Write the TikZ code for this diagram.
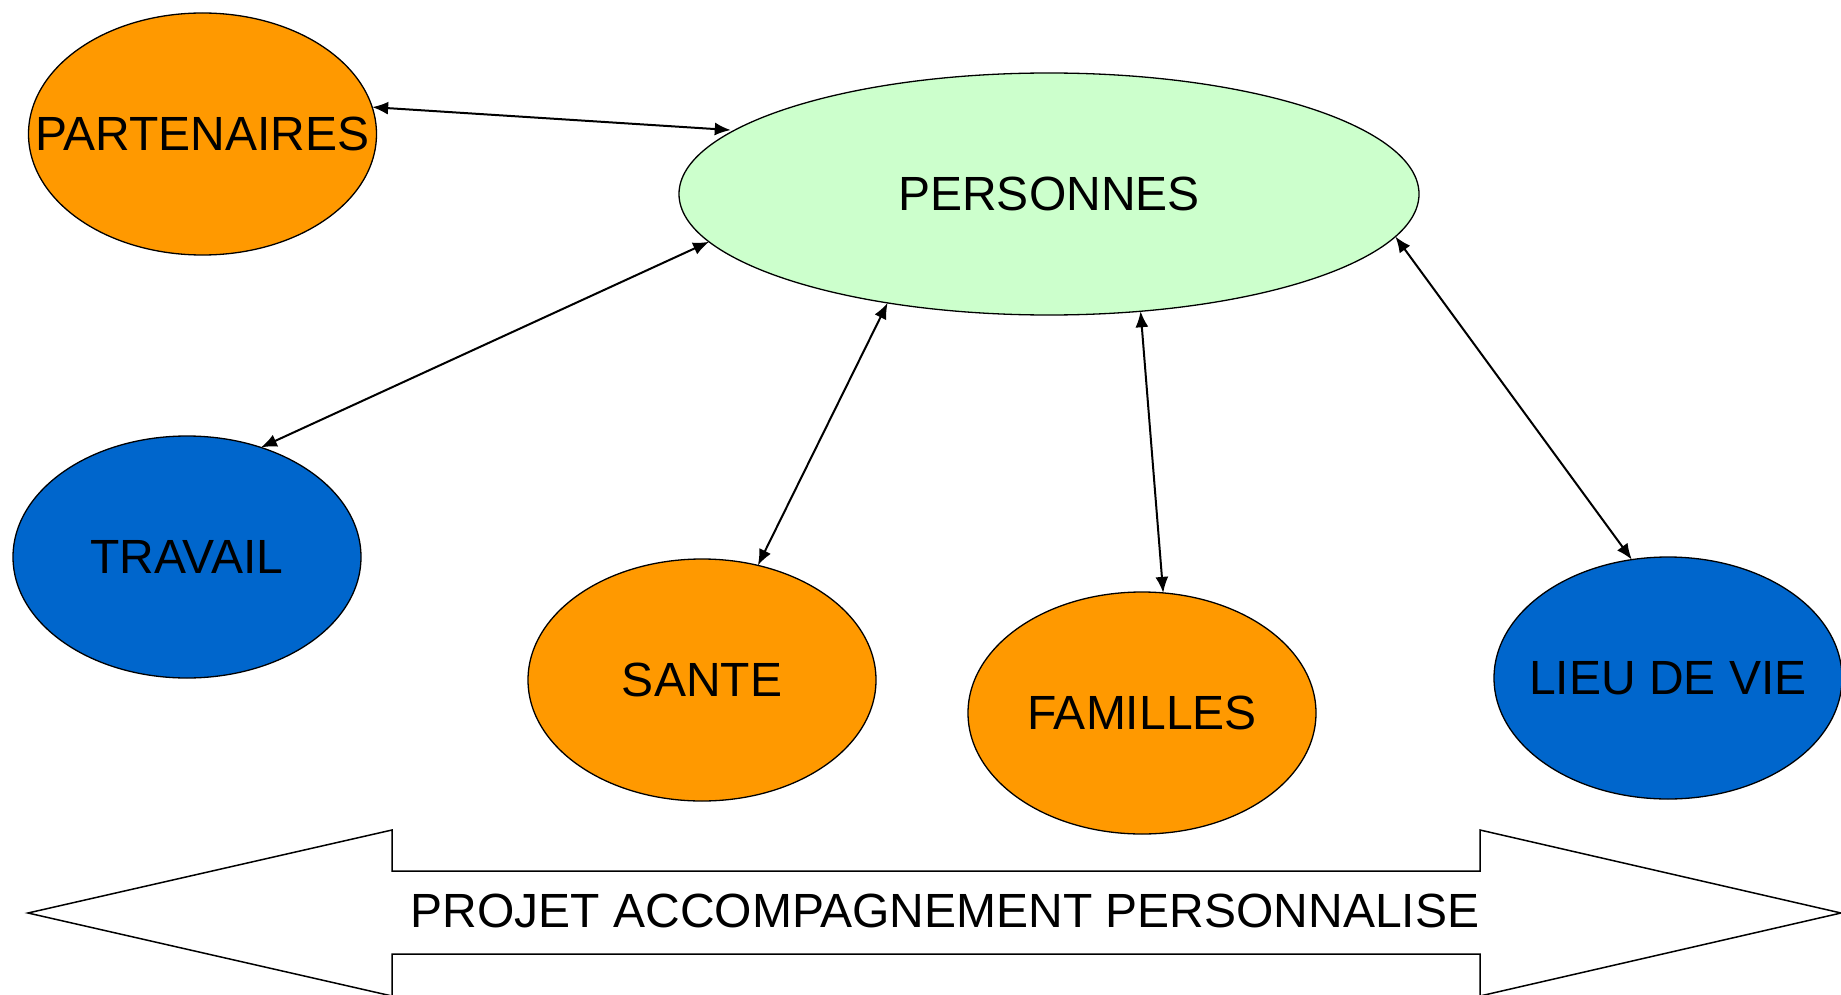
\documentclass[tikz,border=0pt]{standalone}
\usepackage{fontspec}
\setmainfont{Liberation Sans}
\usetikzlibrary{shapes.geometric,arrows.meta}
\definecolor{orng}{HTML}{FF9900}
\definecolor{blu}{HTML}{0066CC}
\definecolor{lgreen}{HTML}{CCFFCC}
\newcommand{\zw}[1]{\makebox[0pt]{#1}}
\begin{document}
\begin{tikzpicture}[x=1pt,y=-1pt,
  bub/.style={ellipse,draw=black,line width=1.3pt,inner sep=0pt,outer sep=0pt,
    minimum width=348pt,minimum height=242pt,font=\fontsize{48}{56}\selectfont},
  link/.style={line width=2pt,{Latex[length=16pt,width=13pt]}-{Latex[length=16pt,width=13pt]}}]
\useasboundingbox (0,0) rectangle (1841,995);
\node[bub,fill=orng] (part) at (202.5,134) {\zw{PARTENAIRES}};
\node[bub,fill=lgreen,minimum width=740pt] (pers) at (1049,194) {\zw{PERSONNES}};
\node[bub,fill=blu] (trav) at (187,557) {\zw{TRAVAIL}};
\node[bub,fill=orng] (sante) at (702,680) {\zw{SANTE}};
\node[bub,fill=orng] (fam) at (1142,713) {\zw{FAMILLES}};
\node[bub,fill=blu] (lieu) at (1668,678) {\zw{LIEU DE VIE}};
\draw[link] (part.9.5) -- ([shift={(-8pt,-2pt)}]pers.168.5);
\draw[link] (trav.56.4) -- (pers.-172.3);
\draw[link] (sante.64.4) -- (pers.-146.2);
\draw[link] (fam.80.7) -- (pers.-52.8);
\draw[link] (lieu.107.4) -- (pers.-7.5);
\draw[line width=1.5pt,fill=white] (28,913) -- (392,830) -- (392,871) -- (1480,871) -- (1480,830)
  -- (1841,913) -- (1480,996) -- (1480,954) -- (392,954) -- (392,996) -- cycle;
\node[font=\fontsize{48}{56}\selectfont,inner sep=0pt] (proj) at (945,911) {PROJET ACCOMPAGNEMENT PERSONNALISE};
\end{tikzpicture}
\end{document}
